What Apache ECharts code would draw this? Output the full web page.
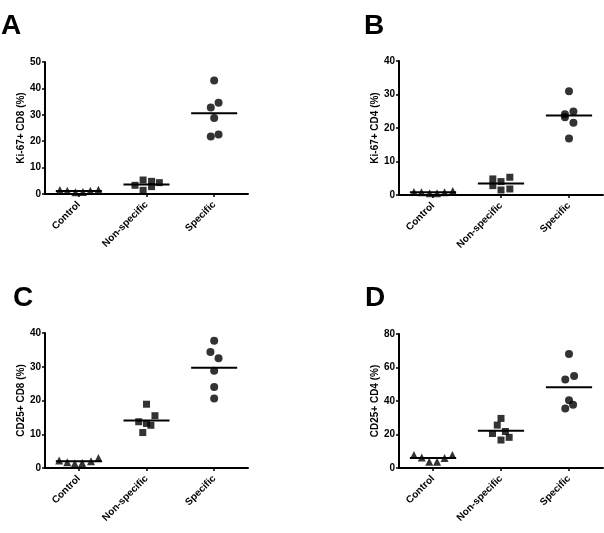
<!DOCTYPE html>
<html>
<head>
<meta charset="utf-8">
<script src="https://cdn.jsdelivr.net/npm/echarts@6/dist/echarts.min.js"></script>
<style>html,body{margin:0;padding:0;background:#fff}#c{width:604px;height:533px}</style>
</head>
<body>
<div id="c"></div>
<script>
const categories = ['Control', 'Non-specific', 'Specific'];
const panelLetters = ['A', 'B', 'C', 'D'];
const yTitles = ['Ki-67+ CD8 (%)', 'Ki-67+ CD4 (%)', 'CD25+ CD8 (%)', 'CD25+ CD4 (%)'];
const yMax = [50, 40, 40, 80];
const yStep = [10, 10, 10, 20];

// Panel A
const aControl = [1.5, 1.2, 0.7, 0.8, 1.2, 1.6];
const aControlX = [-0.28, -0.17, -0.05, 0.06, 0.17, 0.29];
const aNonSpec = [3.3, 5.3, 1.4, 4.8, 2.8, 4.3];
const aNonSpecX = [-0.17, -0.05, -0.05, 0.075, 0.075, 0.19];
const aSpec = [43.0, 34.6, 32.8, 28.8, 21.8, 22.5];
const aSpecX = [0, 0.065, -0.05, 0, -0.05, 0.065];
const aMeans = [1.1, 3.6, 30.6];

// Panel B
const bControl = [0.9, 0.8, 0.5, 0.5, 0.8, 1.2];
const bControlX = [-0.28, -0.17, -0.05, 0.06, 0.17, 0.29];
const bNonSpec = [4.8, 2.8, 4.0, 1.5, 5.3, 1.8];
const bNonSpecX = [-0.12, -0.12, 0, 0, 0.13, 0.13];
const bSpec = [31.0, 24.9, 24.1, 23.2, 21.6, 16.9];
const bSpecX = [0, 0.065, -0.06, -0.06, 0.065, 0];
const bMeans = [0.8, 3.4, 23.7];

// Panel C
const cControl = [2.2, 1.7, 1.3, 1.5, 2.0, 3.0];
const cControlX = [-0.29, -0.17, -0.06, 0.05, 0.18, 0.29];
const cNonSpec = [18.9, 15.5, 13.7, 13.2, 12.65, 10.5];
const cNonSpecX = [0, 0.125, -0.115, 0, 0.065, -0.055];
const cSpec = [37.7, 34.4, 32.5, 28.8, 24.0, 20.6];
const cSpecX = [0, -0.055, 0.065, 0, 0, 0];
const cMeans = [2.0, 14.1, 29.7];

// Panel D
const dControl = [7.7, 6.2, 3.8, 3.8, 6.0, 7.7];
const dControlX = [-0.28, -0.165, -0.055, 0.06, 0.17, 0.285];
const dNonSpec = [29.6, 25.6, 20.6, 21.8, 18.3, 16.7];
const dNonSpecX = [0, -0.055, -0.125, 0.065, 0.12, 0];
const dSpec = [68.1, 55.0, 52.8, 40.5, 37.7, 35.5];
const dSpecX = [0, 0.075, -0.055, 0, 0.06, -0.055];
const dMeans = [6.0, 22.3, 48.2];

const panels = [
  { groups: [aControl, aNonSpec, aSpec], jit: [aControlX, aNonSpecX, aSpecX], means: aMeans },
  { groups: [bControl, bNonSpec, bSpec], jit: [bControlX, bNonSpecX, bSpecX], means: bMeans },
  { groups: [cControl, cNonSpec, cSpec], jit: [cControlX, cNonSpecX, cSpecX], means: cMeans },
  { groups: [dControl, dNonSpec, dSpec], jit: [dControlX, dNonSpecX, dSpecX], means: dMeans }
];

// layout (style)
const grids = [
  { left: 45, top: 62, width: 203, height: 132 },
  { left: 399, top: 61, width: 204, height: 134 },
  { left: 45, top: 333, width: 203, height: 135 },
  { left: 399, top: 334, width: 204, height: 134 }
];
const nameGaps = [18, 16, 18, 16];
const letterPos = [[1, 12], [364, 12], [13, 284], [365, 284]];
const symbols = ['triangle', 'rect', 'circle'];
const symbolSizes = [8, 7, 8];
const halfW = 0.34;
const FONT = '"Liberation Sans", Arial, sans-serif';
const axisLine = { show: true, lineStyle: { color: '#000', width: 2 } };

const xAxis = [], yAxis = [], series = [], graphic = [];
panels.forEach((p, i) => {
  xAxis.push({
    type: 'category', gridIndex: i, data: categories, boundaryGap: true,
    axisLine: axisLine,
    axisTick: { show: true, alignWithLabel: true, length: 3, lineStyle: { color: '#000', width: 1.5 } },
    axisLabel: { rotate: 45, margin: 9, fontSize: 10, fontWeight: 'bold', color: '#000', fontFamily: FONT, interval: 0 },
    splitLine: { show: false }
  });
  xAxis.push({ type: 'value', gridIndex: i, min: 0.5, max: 3.5, show: false });
  yAxis.push({
    type: 'value', gridIndex: i, min: 0, max: yMax[i], interval: yStep[i],
    name: yTitles[i], nameLocation: 'middle', nameGap: nameGaps[i], nameRotate: 90,
    nameTextStyle: { fontSize: 10, fontWeight: 'bold', color: '#000', fontFamily: FONT },
    axisLine: axisLine,
    axisTick: { show: true, length: 3, lineStyle: { color: '#000', width: 1.5 } },
    axisLabel: { margin: 4, fontSize: 10, fontWeight: 'bold', color: '#000', fontFamily: FONT },
    splitLine: { show: false }
  });
  p.groups.forEach((vals, g) => {
    series.push({
      type: 'scatter', xAxisIndex: 2 * i + 1, yAxisIndex: i,
      symbol: symbols[g], symbolSize: symbolSizes[g],
      itemStyle: { color: '#000' },
      data: vals.map((v, k) => [g + 1 + p.jit[g][k], v]),
      silent: true, z: 2
    });
    series.push({
      type: 'line', xAxisIndex: 2 * i + 1, yAxisIndex: i,
      symbol: 'none', lineStyle: { color: '#000', width: 2 },
      data: [[g + 1 - halfW, p.means[g]], [g + 1 + halfW, p.means[g]]],
      silent: true, z: 3
    });
  });
  graphic.push({
    type: 'text', left: letterPos[i][0], top: letterPos[i][1],
    style: { text: panelLetters[i], font: 'bold 28px ' + FONT, fill: '#000' }
  });
});

const chart = echarts.init(document.getElementById('c'), null, { renderer: 'canvas' });
chart.setOption({
  animation: false,
  backgroundColor: '#fff',
  grid: grids,
  xAxis: xAxis,
  yAxis: yAxis,
  series: series,
  graphic: graphic
});
</script>
</body>
</html>
